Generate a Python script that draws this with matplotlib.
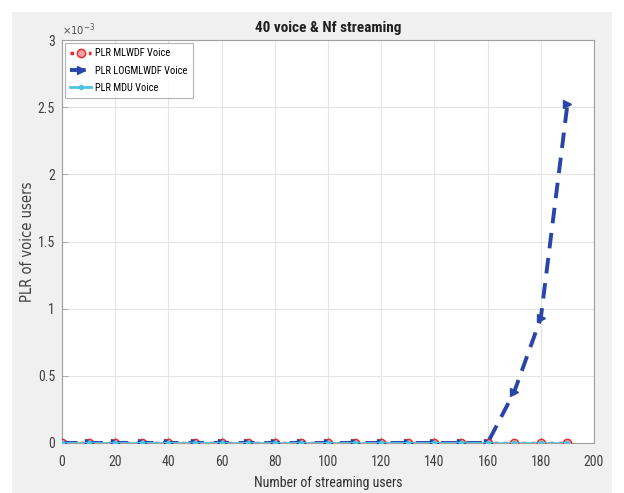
import matplotlib
matplotlib.use("Agg")
import matplotlib.pyplot as plt
from matplotlib.patches import Rectangle
from matplotlib.ticker import FuncFormatter
from matplotlib import font_manager
import numpy as np

users = [0, 10, 20, 30, 40, 50, 60, 70, 80, 90, 100, 110, 120, 130, 140, 150, 160, 170, 180, 190]
plr_mlwdf = [0]*20
plr_logmlwdf = [0]*17 + [0.38e-3, 0.93e-3, 2.52e-3]
plr_mdu = [0]*20

title = "40 voice & Nf streaming"
xlabel = "Number of streaming users"
ylabel = "PLR of voice users"
labels = ["PLR MLWDF Voice", "PLR LOGMLWDF Voice", "PLR MDU Voice"]

names = {f.name for f in font_manager.fontManager.ttflist}
narrow = [n for n in ['Liberation Sans Narrow', 'DejaVu Sans Condensed', 'Roboto Condensed'] if n in names]
plt.rcParams['font.family'] = narrow + ['DejaVu Sans']
plt.rcParams['font.stretch'] = 'condensed'

fig = plt.figure(figsize=(6.24, 4.93), dpi=100)
fig.patch.set_facecolor('white')
fig.patches.append(Rectangle((12/624, 0), 600/624, 481/493, transform=fig.transFigure,
                             facecolor='#f0f0f0', edgecolor='none', zorder=-10))

ax = fig.add_axes([62/624, 1-443/493, 532/624, 403/493])
ax.set_facecolor('white')

ax.plot(users, plr_mlwdf, color='#e8282b', linestyle=':', linewidth=2.5, marker='o',
        markersize=6, markerfacecolor='#f4a0a0', markeredgecolor='#e8282b', label=labels[0], zorder=3)
ax.plot(users, plr_logmlwdf, color='#2a45a8', linestyle='--', linewidth=2.8, marker='>',
        markersize=6, markerfacecolor='#2a45a8', markeredgecolor='#2a45a8', label=labels[1], zorder=4,
        dashes=(4, 2.5))
ax.plot(users, plr_mdu, color='#4fc4e0', linestyle='-', linewidth=2, marker='o',
        markersize=3, markerfacecolor='#4fc4e0', markeredgecolor='#4fc4e0', label=labels[2], zorder=5)

ax.set_xlim(0, 200)
ax.set_ylim(0, 3e-3)
ax.set_xticks(np.arange(0, 201, 20))
ax.set_yticks(np.arange(0, 3.01e-3, 0.5e-3))
ax.yaxis.set_major_formatter(FuncFormatter(lambda v, p: f"{v*1e3:g}"))
ax.text(0.0, 1.005, r"$\times10^{-3}$", transform=ax.transAxes, fontsize=8, color='#505050',
        ha='left', va='bottom', family=['DejaVu Sans'])
ax.grid(True, color='#e4e4e4', linewidth=0.8)
ax.set_axisbelow(True)
for s in ax.spines.values():
    s.set_color('#a0a0a0')
    s.set_linewidth(0.8)
ax.tick_params(direction='in', colors='#a0a0a0', labelcolor='#404040', labelsize=10, length=4, width=0.6)
ax.tick_params(axis='x', pad=9)
ax.tick_params(axis='y', pad=5)

ax.set_title(title, fontsize=11, fontweight='bold', color='#202020', pad=6)
ax.set_xlabel(xlabel, fontsize=10, color='#303030')
ax.xaxis.set_label_coords(0.5, -0.082)
ax.set_ylabel(ylabel, fontsize=10.5, color='#404040', family=['DejaVu Sans'])
ax.yaxis.set_label_coords(-0.05, 0.5)

leg = ax.legend(loc='upper left', fontsize=7.5, frameon=True, fancybox=False,
                edgecolor='#a0a0a0', handlelength=2.0, borderaxespad=0.3, labelspacing=0.7,
                borderpad=0.5, handletextpad=0.4)
leg.get_frame().set_linewidth(0.8)

fig.savefig('out.png', dpi=100, facecolor=fig.get_facecolor())
